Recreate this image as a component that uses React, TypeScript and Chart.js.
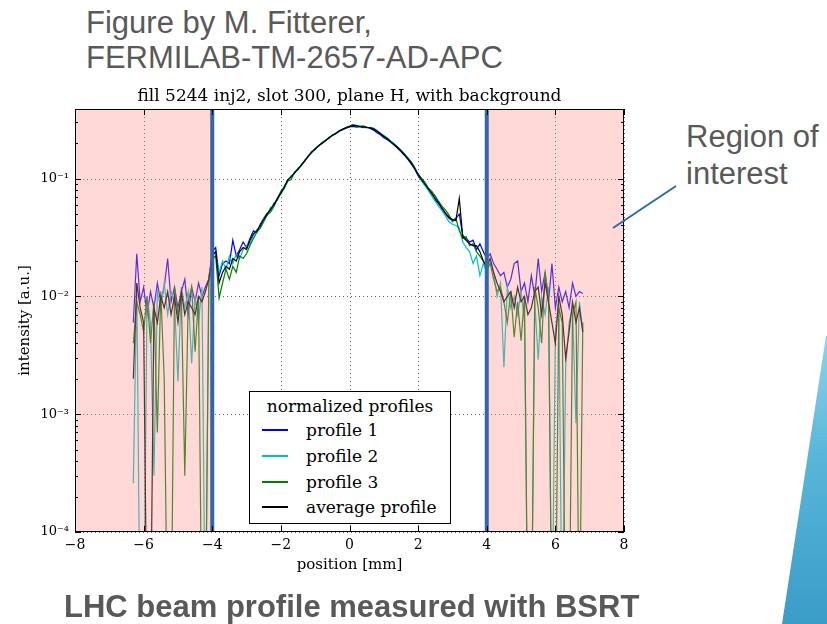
import React, { useEffect, useRef } from "react";
import { Chart, registerables } from "chart.js";

Chart.register(...registerables);

// ---------------- data ----------------
const positions = [
  -6.3, -6.2, -6.1, -6.0, -5.9, -5.8, -5.7, -5.6, -5.5, -5.4, -5.3, -5.2, -5.1, -5.0, -4.9, -4.8, -4.7, -4.6, -4.5, -4.4, -4.3, -4.2, -4.1,
  -4.0, -3.9, -3.8, -3.7, -3.6, -3.5, -3.4, -3.3, -3.2, -3.1,
  -3.0, -2.9, -2.8, -2.7, -2.6, -2.5, -2.4, -2.3, -2.2, -2.1,
  -2.0, -1.9, -1.8, -1.7, -1.6, -1.5, -1.4, -1.3, -1.2, -1.1,
  -1.0, -0.9, -0.8, -0.7, -0.6, -0.5, -0.4, -0.3, -0.2, -0.1,
  0.0, 0.1, 0.2, 0.3, 0.4, 0.5, 0.6, 0.7, 0.8, 0.9,
  1.0, 1.1, 1.2, 1.3, 1.4, 1.5, 1.6, 1.7, 1.8, 1.9,
  2.0, 2.1, 2.2, 2.3, 2.4, 2.5, 2.6, 2.7, 2.8, 2.9,
  3.0, 3.1, 3.2, 3.3, 3.4, 3.5, 3.6, 3.7, 3.8, 3.9,
  4.0,
  4.1, 4.2, 4.3, 4.4, 4.5, 4.6, 4.7, 4.8, 4.9, 5.0, 5.1, 5.2, 5.3, 5.4, 5.5, 5.6, 5.7, 5.8, 5.9, 6.0, 6.1, 6.2, 6.3, 6.4, 6.5, 6.6, 6.7, 6.8,
];

const profile1 = [
  0.006, 0.023, 0.009, 0.012, 0.007, 0.011, 0.008, 0.013, 0.009, 0.012, 0.021, 0.009, 0.012, 0.008, 0.011, 0.014, 0.007, 0.012, 0.009, 0.013, 0.010, 0.012, 0.014,
  0.024, 0.026, 0.015, 0.019, 0.020, 0.019, 0.030, 0.022, 0.025, 0.029,
  0.026, 0.031, 0.036, 0.035, 0.041, 0.046, 0.051, 0.054, 0.062, 0.066,
  0.078, 0.084, 0.098, 0.103, 0.113, 0.120, 0.131, 0.143, 0.154, 0.170,
  0.177, 0.191, 0.199, 0.211, 0.220, 0.233, 0.240, 0.254, 0.260, 0.268,
  0.275, 0.278, 0.274, 0.276, 0.271, 0.274, 0.266, 0.258, 0.245, 0.236,
  0.222, 0.214, 0.203, 0.193, 0.181, 0.170, 0.158, 0.146, 0.133, 0.120,
  0.106, 0.097, 0.088, 0.081, 0.074, 0.066, 0.061, 0.055, 0.050, 0.046,
  0.044, 0.046, 0.050, 0.033, 0.031, 0.029, 0.030, 0.025, 0.028, 0.024,
  0.021,
  0.023, 0.019, 0.017, 0.015, 0.016, 0.012, 0.014, 0.019, 0.020, 0.011, 0.013, 0.009, 0.015, 0.010, 0.021, 0.011, 0.016, 0.009, 0.019, 0.008, 0.012, 0.009, 0.011, 0.008, 0.013, 0.010, 0.011, 0.0106,
];

const profile2 = [
  0.00026, 0.013, 0.00001, 0.00001, 0.010, 0.006, 0.0003, 0.011, 0.008, 0.013, 0.007, 0.011, 0.009, 0.0019, 0.012, 0.008, 0.011, 0.0027, 0.010, 0.006, 0.012, 0.00001, 0.015,
  0.021, 0.022, 0.016, 0.020, 0.017, 0.022, 0.019, 0.023, 0.021, 0.025,
  0.027, 0.028, 0.033, 0.037, 0.039, 0.046, 0.049, 0.057, 0.059, 0.069,
  0.077, 0.087, 0.096, 0.106, 0.111, 0.123, 0.129, 0.144, 0.156, 0.167,
  0.180, 0.189, 0.202, 0.209, 0.224, 0.231, 0.244, 0.252, 0.264, 0.271,
  0.278, 0.285, 0.279, 0.281, 0.276, 0.270, 0.272, 0.267, 0.256, 0.244,
  0.231, 0.222, 0.209, 0.198, 0.186, 0.174, 0.163, 0.150, 0.139, 0.125,
  0.110, 0.095, 0.087, 0.079, 0.071, 0.064, 0.058, 0.053, 0.048, 0.043,
  0.041, 0.040, 0.038, 0.029, 0.026, 0.024, 0.019, 0.022, 0.015, 0.019,
  0.016,
  0.020, 0.016, 0.010, 0.013, 0.0025, 0.012, 0.008, 0.010, 0.007, 0.011, 0.006, 0.00001, 0.00001, 0.009, 0.0029, 0.010, 0.007, 0.012, 0.00001, 0.005, 0.009, 0.00001, 0.0025, 0.006, 0.008, 0.00084, 0.009, 0.005,
];

const profile3 = [
  0.004, 0.009, 0.007, 0.005, 0.010, 0.004, 0.009, 0.0007, 0.011, 0.002, 0.00001, 0.00001, 0.012, 0.007, 0.010, 0.0003, 0.009, 0.012, 0.0034, 0.010, 0.00001, 0.00001, 0.013,
  0.021, 0.022, 0.0097, 0.013, 0.017, 0.014, 0.018, 0.016, 0.022, 0.021,
  0.023, 0.027, 0.031, 0.035, 0.038, 0.043, 0.049, 0.052, 0.058, 0.067,
  0.074, 0.083, 0.095, 0.098, 0.114, 0.119, 0.132, 0.141, 0.157, 0.166,
  0.181, 0.188, 0.203, 0.212, 0.221, 0.235, 0.243, 0.255, 0.263, 0.272,
  0.279, 0.287, 0.283, 0.276, 0.280, 0.273, 0.271, 0.267, 0.255, 0.241,
  0.231, 0.219, 0.208, 0.196, 0.186, 0.174, 0.161, 0.150, 0.138, 0.123,
  0.109, 0.101, 0.093, 0.083, 0.078, 0.071, 0.064, 0.058, 0.054, 0.049,
  0.043, 0.046, 0.036, 0.031, 0.032, 0.027, 0.028, 0.024, 0.022, 0.020,
  0.017,
  0.019, 0.014, 0.011, 0.012, 0.009, 0.006, 0.011, 0.0045, 0.009, 0.0042, 0.010, 0.00001, 0.00001, 0.012, 0.008, 0.004, 0.016, 0.010, 0.00001, 0.00001, 0.008, 0.006, 0.00001, 0.00001, 0.007, 0.009, 0.00001, 0.006,
];

const averageProfile = [
  0.002, 0.013, 0.008, 0.006, 0.00001, 0.00001, 0.008, 0.006, 0.010, 0.008, 0.011, 0.007, 0.010, 0.006, 0.011, 0.007, 0.009, 0.008, 0.007, 0.010, 0.009, 0.011, 0.014,
  0.022, 0.024, 0.013, 0.016, 0.018, 0.017, 0.021, 0.020, 0.024, 0.026,
  0.025, 0.030, 0.034, 0.036, 0.040, 0.045, 0.050, 0.055, 0.060, 0.068,
  0.076, 0.085, 0.097, 0.104, 0.112, 0.121, 0.130, 0.142, 0.155, 0.168,
  0.178, 0.190, 0.200, 0.210, 0.222, 0.232, 0.242, 0.253, 0.262, 0.270,
  0.276, 0.282, 0.280, 0.277, 0.275, 0.272, 0.270, 0.264, 0.252, 0.240,
  0.228, 0.218, 0.206, 0.195, 0.184, 0.172, 0.160, 0.148, 0.136, 0.122,
  0.108, 0.098, 0.090, 0.082, 0.075, 0.068, 0.062, 0.056, 0.051, 0.047,
  0.045, 0.044, 0.068, 0.032, 0.030, 0.028, 0.027, 0.027, 0.024, 0.020,
  0.018,
  0.021, 0.016, 0.013, 0.011, 0.009, 0.010, 0.011, 0.008, 0.012, 0.009, 0.010, 0.007, 0.008, 0.011, 0.012, 0.007, 0.013, 0.009, 0.006, 0.004, 0.010, 0.007, 0.003, 0.005, 0.009, 0.006, 0.008, 0.005,
];

const seriesLabels = ["profile 1", "profile 2", "profile 3", "average profile"];
const seriesColors = ["#0000ff", "#00bfbf", "#008000", "#000000"];

const xTickValues = [-8, -6, -4, -2, 0, 2, 4, 6, 8];
const xTickLabels = ["\u22128", "\u22126", "\u22124", "\u22122", "0", "2", "4", "6", "8"];
const yTickValues = [1e-4, 1e-3, 1e-2, 1e-1];
const yTickLabels = ["10\u207B\u2074", "10\u207B\u00B3", "10\u207B\u00B2", "10\u207B\u00B9"];
const regionLimits = [-4, 4];

const chartTitle = "fill 5244 inj2, slot 300, plane H, with background";
const legendTitle = "normalized profiles";

const SERIF = "'DejaVu Serif', serif";
const SANS = "'Liberation Sans', Arial, sans-serif";

const decorPlugin = {
  id: "decor",
  beforeDatasetsDraw(chart: any) {
    const { ctx, chartArea: a, scales } = chart;
    const x = scales.x;
    const y = scales.y;
    ctx.save();
    ctx.strokeStyle = "rgba(0,0,0,0.6)";
    ctx.lineWidth = 1;
    ctx.setLineDash([1, 3]);
    for (const v of xTickValues) {
      const px = Math.round(x.getPixelForValue(v)) + 0.5;
      ctx.beginPath();
      ctx.moveTo(px, a.top);
      ctx.lineTo(px, a.bottom);
      ctx.stroke();
    }
    for (const v of yTickValues) {
      const py = Math.round(y.getPixelForValue(v)) + 0.5;
      ctx.beginPath();
      ctx.moveTo(a.left, py);
      ctx.lineTo(a.right, py);
      ctx.stroke();
    }
    ctx.restore();
  },
  afterDatasetsDraw(chart: any) {
    const { ctx, chartArea: a, scales } = chart;
    const x = scales.x;
    const y = scales.y;
    const h = a.bottom - a.top;
    ctx.save();
    const lx = x.getPixelForValue(regionLimits[0]);
    const rx = x.getPixelForValue(regionLimits[1]);
    ctx.fillStyle = "rgba(255,140,140,0.34)";
    ctx.fillRect(a.left, a.top, lx - a.left, h);
    ctx.fillRect(rx, a.top, a.right - rx, h);
    ctx.strokeStyle = "#3565a6";
    ctx.lineWidth = 4;
    for (const px of [lx, rx]) {
      ctx.beginPath();
      ctx.moveTo(px, a.top);
      ctx.lineTo(px, a.bottom);
      ctx.stroke();
    }
    ctx.strokeStyle = "#000";
    ctx.lineWidth = 1;
    ctx.strokeRect(Math.round(a.left) + 0.5, Math.round(a.top) + 0.5, Math.round(a.right - a.left) - 1, Math.round(h) - 1);
    ctx.beginPath();
    for (const v of xTickValues) {
      const px = Math.round(x.getPixelForValue(v)) + 0.5;
      ctx.moveTo(px, a.bottom);
      ctx.lineTo(px, a.bottom - 6);
      ctx.moveTo(px, a.top);
      ctx.lineTo(px, a.top + 6);
    }
    for (const v of yTickValues) {
      const py = Math.round(y.getPixelForValue(v)) + 0.5;
      ctx.moveTo(a.left, py);
      ctx.lineTo(a.left + 6, py);
      ctx.moveTo(a.right, py);
      ctx.lineTo(a.right - 6, py);
    }
    const ymin = y.min;
    const ymax = y.max;
    for (let d = -4; d <= 0; d++) {
      for (let m = 2; m <= 9; m++) {
        const v = m * Math.pow(10, d);
        if (v <= ymin || v >= ymax) continue;
        const py = Math.round(y.getPixelForValue(v)) + 0.5;
        ctx.moveTo(a.left, py);
        ctx.lineTo(a.left + 3, py);
        ctx.moveTo(a.right, py);
        ctx.lineTo(a.right - 3, py);
      }
    }
    ctx.stroke();
    // title centred over the plot area
    ctx.fillStyle = "#000";
    ctx.font = "17px 'DejaVu Serif'";
    ctx.textAlign = "center";
    ctx.textBaseline = "alphabetic";
    ctx.fillText(chartTitle, (a.left + a.right) / 2, a.top - 8);
    ctx.restore();
  },
};

function ChartCanvas() {
  const ref = useRef<HTMLCanvasElement | null>(null);
  useEffect(() => {
    const canvas = ref.current;
    if (!canvas) return;
    const series = [profile1, profile2, profile3, averageProfile];
    const chart = new Chart(canvas, {
      type: "line",
      data: {
        datasets: series.map((s, k) => ({
          label: seriesLabels[k],
          data: positions.map((p, i) => ({ x: p, y: s[i] })),
          borderColor: seriesColors[k],
          backgroundColor: seriesColors[k],
          borderWidth: 1.2,
          pointRadius: 0,
          tension: 0,
          fill: false,
          order: 3 - k,
        })),
      },
      options: {
        responsive: false,
        animation: false,
        devicePixelRatio: 1,
        layout: { padding: { left: 0, right: 36, top: 29, bottom: 0 } },
        plugins: {
          legend: { display: false },
          tooltip: { enabled: false },
          title: { display: false },
        },
        scales: {
          x: {
            type: "linear",
            min: -8,
            max: 8,
            afterBuildTicks: (s: any) => {
              s.ticks = xTickValues.map((v) => ({ value: v }));
            },
            afterFit: (s: any) => {
              s.height = 48;
            },
            grid: { display: false, drawTicks: false },
            border: { display: false },
            ticks: {
              autoSkip: false,
              maxRotation: 0,
              padding: 5,
              color: "#000",
              font: { family: SERIF, size: 14 },
              callback: (_v: any, i: number) => xTickLabels[i],
            },
            title: {
              display: true,
              text: "position [mm]",
              color: "#000",
              font: { family: SERIF, size: 15 },
              padding: { top: 0, bottom: 6 },
            },
          },
          y: {
            type: "logarithmic",
            min: 1e-4,
            max: 0.39,
            afterBuildTicks: (s: any) => {
              s.ticks = yTickValues.map((v) => ({ value: v }));
            },
            afterFit: (s: any) => {
              s.width = 75;
            },
            grid: { display: false, drawTicks: false },
            border: { display: false },
            ticks: {
              autoSkip: false,
              padding: 6,
              color: "#000",
              font: { family: SERIF, size: 13 },
              callback: (_v: any, i: number) => yTickLabels[i],
            },
            title: {
              display: true,
              text: "intensity [a.u.]",
              color: "#000",
              font: { family: SERIF, size: 15 },
              padding: { top: 16, bottom: 0 },
            },
          },
        },
      },
      plugins: [decorPlugin],
    } as any);
    return () => chart.destroy();
  }, []);
  return (
    <canvas
      ref={ref}
      width={660}
      height={500}
      style={{ position: "absolute", left: 0, top: 80, width: 660, height: 500 }}
    />
  );
}

function Legend() {
  const rowCenters = [430, 456, 482, 507];
  const top = 391;
  const left = 249;
  return (
    <div
      style={{
        position: "absolute",
        left: left,
        top: top,
        width: 202,
        height: 133,
        boxSizing: "border-box",
        border: "1px solid #000",
        background: "#fff",
        fontFamily: SERIF,
        fontSize: 17,
        color: "#000",
      }}
    >
      <div style={{ position: "absolute", left: 0, right: 0, top: 406 - top - 12, lineHeight: "22px", textAlign: "center", whiteSpace: "nowrap" }}>
        {legendTitle}
      </div>
      {seriesLabels.map((lab, k) => (
        <React.Fragment key={lab}>
          <div
            style={{
              position: "absolute",
              left: 262 - left - 1,
              top: rowCenters[k] - top - 2,
              width: 26,
              height: 2,
              backgroundColor: seriesColors[k],
            }}
          />
          <div style={{ position: "absolute", left: 306 - left - 1, top: rowCenters[k] - top - 12, lineHeight: "22px", whiteSpace: "nowrap" }}>
            {lab}
          </div>
        </React.Fragment>
      ))}
    </div>
  );
}

export default function App() {
  return (
    <div style={{ position: "fixed", left: 0, top: 0, width: 827, height: 624, background: "#fff", overflow: "hidden" }}>
      <div
        style={{
          position: "absolute",
          left: 86,
          top: 5,
          fontFamily: SANS,
          fontSize: 31,
          lineHeight: "35px",
          color: "#595959",
          whiteSpace: "nowrap",
        }}
      >
        <div>Figure by M. Fitterer,</div>
        <div>FERMILAB-TM-2657-AD-APC</div>
      </div>
      <ChartCanvas />
      <Legend />
      <div
        style={{
          position: "absolute",
          left: 686,
          top: 118,
          fontFamily: SANS,
          fontSize: 31,
          lineHeight: "37px",
          color: "#595959",
          whiteSpace: "nowrap",
        }}
      >
        <div>Region of</div>
        <div>interest</div>
      </div>
      <svg width={827} height={624} style={{ position: "absolute", left: 0, top: 0, pointerEvents: "none" }}>
        <defs>
          <linearGradient id="wedge" x1="0" y1="0" x2="0" y2="1">
            <stop offset="0" stopColor="#8fd3ea" />
            <stop offset="0.4" stopColor="#5ab7da" />
            <stop offset="1" stopColor="#3a9cc8" />
          </linearGradient>
        </defs>
        <line x1={613} y1={228} x2={676} y2={186} stroke="#2f6aa8" strokeWidth={2} />
        <polygon points="826,336 827,336 827,624 782,624" fill="url(#wedge)" />
      </svg>
      <div
        style={{
          position: "absolute",
          left: 64,
          top: 590,
          fontFamily: SANS,
          fontWeight: "bold",
          fontSize: 31,
          lineHeight: "34px",
          color: "#595959",
          whiteSpace: "nowrap",
        }}
      >
        LHC beam profile measured with BSRT
      </div>
    </div>
  );
}
